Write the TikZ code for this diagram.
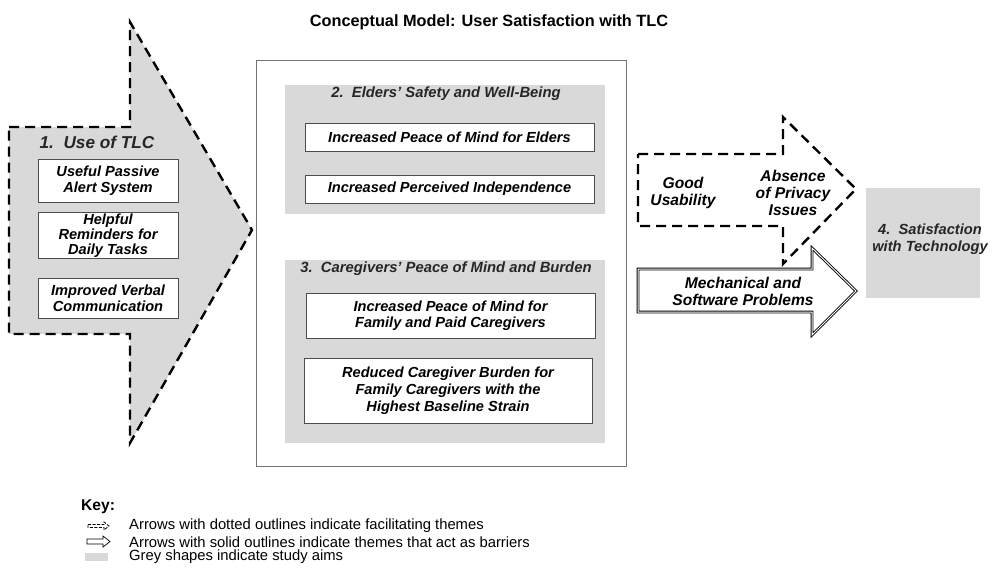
\documentclass[tikz,border=0pt]{standalone}
\usepackage{fontspec}
\setmainfont{Liberation Sans}
\begin{document}
\begin{tikzpicture}[x=1pt,y=-1pt,
  aimfill/.style={fill=aimgrey},
  dasharrow/.style={draw=black,line width=2.4pt,dash pattern=on 10pt off 6pt,line join=miter},
  wbox/.style={draw=black!70,line width=0.8pt,fill=white,align=center,inner sep=1pt,
    font=\fontsize{14.6}{16}\selectfont\bfseries\itshape},
  heading/.style={font=\fontsize{14.8}{17}\selectfont\bfseries\itshape,text=black!85},
  lbl/.style={align=center,font=\fontsize{15.6}{17}\selectfont\bfseries\itshape},
  keytxt/.style={anchor=west,font=\fontsize{14.8}{16}\selectfont,inner sep=0pt},
]
\definecolor{aimgrey}{HTML}{D9D9D9}
\useasboundingbox (0,0) rectangle (993,571);

% title
\node[font=\fontsize{16.3}{19}\selectfont\bfseries] (title) at (489,22) {Conceptual Model: User Satisfaction with TLC};

% 1. Use of TLC big dashed arrow
\path[aimfill] (9,127) -- (130,127) -- (130,22) -- (252,230) -- (130,443) -- (130,334) -- (9,334) -- cycle;
\draw[dasharrow] (9,127) -- (130,127) -- (130,22) -- (252,230) -- (130,443) -- (130,334) -- (9,334) -- cycle;
\node[heading,font=\fontsize{17.2}{19}\selectfont\bfseries\itshape] (h1) at (97,142) {1.\ \ Use of TLC};
\node[wbox,minimum width=140,minimum height=43] (u1) at (108,180.5) {Useful Passive\\Alert System};
\node[wbox,minimum width=140,minimum height=45,font=\fontsize{14.6}{15}\selectfont\bfseries\itshape] (u2) at (108,235.5) {Helpful\\Reminders for\\Daily Tasks};
\node[wbox,minimum width=140,minimum height=40] (u3) at (108,298) {Improved Verbal\\Communication};

% central frame
\node[draw=black!55,line width=0.9pt,minimum width=370,minimum height=406,inner sep=0pt] (frame) at (441,263) {};

% block 2
\node[aimfill,minimum width=320,minimum height=129,inner sep=0pt] (b2) at (445,149.5) {};
\node[heading] (h2) at (446,94) {2.\ \ Elders' Safety and Well-Being};
\node[wbox,minimum width=289,minimum height=28] (e1) at (449.5,137) {Increased Peace of Mind for Elders};
\node[wbox,minimum width=289,minimum height=28] (e2) at (449.5,189) {Increased Perceived Independence};

% block 3
\node[aimfill,minimum width=320,minimum height=183,inner sep=0pt] (b3) at (445,351.5) {};
\node[heading] (h3) at (446,269) {3.\ \ Caregivers' Peace of Mind and Burden};
\node[wbox,minimum width=289,minimum height=45] (c1) at (450.5,315.5) {Increased Peace of Mind for\\Family and Paid Caregivers};
\node[wbox,minimum width=288,minimum height=65,font=\fontsize{14.6}{17}\selectfont\bfseries\itshape] (c2) at (448,390.5) {Reduced Caregiver Burden for\\Family Caregivers with the\\Highest Baseline Strain};

% facilitating dashed arrow
\draw[dasharrow] (638,154) -- (783,154) -- (783,117) -- (856,189) -- (783,264) -- (783,226) -- (638,226) -- cycle;
\node[lbl] (good) at (683,193) {Good\\Usability};
\node[lbl] (priv) at (793,193) {Absence\\of Privacy\\Issues};

% barrier solid arrow
\draw[line width=0.9pt,double=white,double distance=1pt,line join=miter,fill=white]
  (638,269) -- (812,269) -- (812,248) -- (856,291) -- (812,335) -- (812,312) -- (638,312) -- cycle;
\node[lbl] (mech) at (743,291) {Mechanical and\\Software Problems};

% 4. satisfaction
\node[aimfill,minimum width=114,minimum height=110,inner sep=0pt] (sat) at (923,243) {};
\node[heading,align=center,font=\fontsize{14.7}{17}\selectfont\bfseries\itshape] (h4) at (930,239) {4.\ \ Satisfaction\\with Technology};

% key
\node[anchor=west,font=\fontsize{15.6}{17}\selectfont\bfseries,inner sep=0pt] (key) at (81,507) {Key:};
\draw[line width=0.8pt,dash pattern=on 3pt off 1.5pt] (88,524.5) -- (104,524.5) -- (104,522) -- (109,526) -- (104,530) -- (104,527.5) -- (88,527.5) -- cycle;
\draw[line width=0.7pt,line join=miter] (87,539) -- (103,539) -- (103,536) -- (110,541.5) -- (103,547) -- (103,544) -- (87,544) -- cycle;
\path[aimfill] (85,553) rectangle (108,561);
\node[keytxt] (k1) at (129,526) {Arrows with dotted outlines indicate facilitating themes};
\node[keytxt] (k2) at (129,542) {Arrows with solid outlines indicate themes that act as barriers};
\node[keytxt] (k3) at (129,557) {Grey shapes indicate study aims};
\end{tikzpicture}
\end{document}
